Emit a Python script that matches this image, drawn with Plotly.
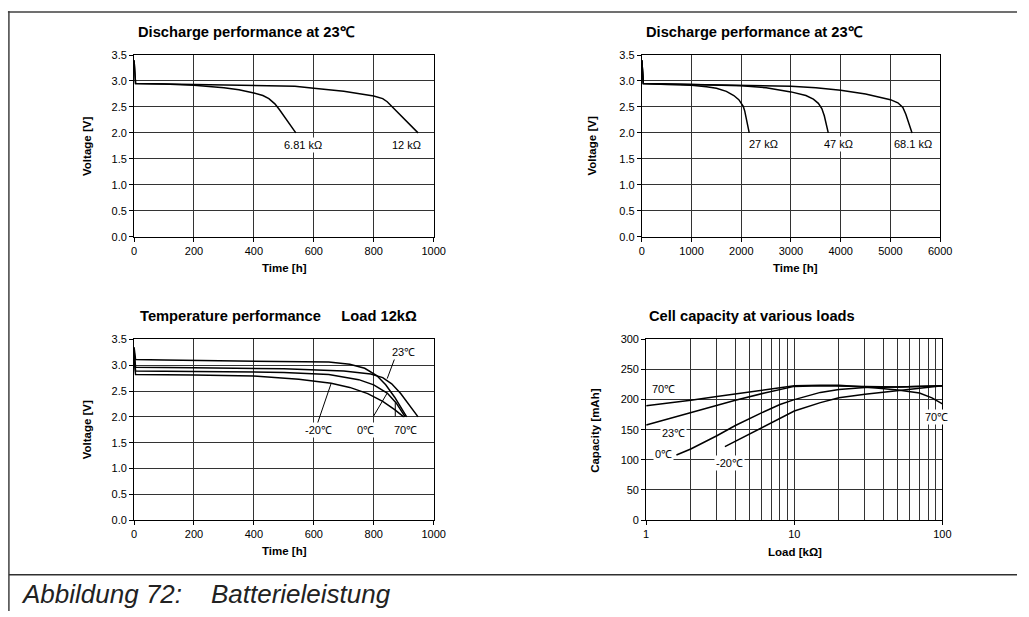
import plotly.graph_objects as go
import math

# ---------------- data ----------------
# Panel 1: Discharge performance at 23°C (time in h, voltage in V)
p1_681_t = [0, 5, 100, 200, 300, 350, 400, 430, 450, 470, 485, 510, 540]
p1_681_v = [3.40, 2.95, 2.94, 2.92, 2.87, 2.83, 2.77, 2.72, 2.66, 2.56, 2.45, 2.24, 2.00]
p1_12_t = [0, 5, 200, 400, 537, 600, 700, 800, 830, 845, 870, 910, 948]
p1_12_v = [3.40, 2.95, 2.93, 2.91, 2.90, 2.86, 2.80, 2.71, 2.66, 2.60, 2.45, 2.22, 2.00]
p1_labels = ["6.81 kΩ", "12 kΩ"]
p1_label_t = [563, 911]
p1_label_v = [1.76, 1.76]

# Panel 2: Discharge performance at 23°C, long loads
p2_27_t = [0, 30, 500, 1000, 1300, 1500, 1700, 1850, 1950, 2000, 2040, 2070, 2100, 2130, 2160]
p2_27_v = [3.40, 2.95, 2.93, 2.92, 2.89, 2.86, 2.80, 2.72, 2.64, 2.58, 2.51, 2.42, 2.26, 2.12, 2.00]
p2_47_t = [0, 30, 1000, 2000, 2500, 3000, 3300, 3450, 3550, 3620, 3670, 3710, 3750]
p2_47_v = [3.40, 2.95, 2.93, 2.91, 2.87, 2.79, 2.72, 2.65, 2.57, 2.47, 2.33, 2.18, 2.00]
p2_68_t = [0, 30, 1000, 2000, 3000, 3500, 4000, 4500, 4800, 5000, 5150, 5250, 5310, 5370, 5435]
p2_68_v = [3.40, 2.95, 2.93, 2.92, 2.90, 2.87, 2.82, 2.75, 2.69, 2.64, 2.58, 2.49, 2.36, 2.20, 2.00]
p2_labels = ["27 kΩ", "47 kΩ", "68.1 kΩ"]
p2_label_t = [2440, 3958, 5460]
p2_label_v = [1.78, 1.78, 1.78]

# Panel 3: Temperature performance, load 12 kΩ
p3_70_t = [0, 5, 100, 300, 500, 650, 720, 770, 810, 840, 870, 895, 910]
p3_70_v = [3.35, 3.11, 3.10, 3.09, 3.08, 3.06, 3.02, 2.94, 2.80, 2.62, 2.38, 2.15, 2.00]
p3_23_t = [0, 5, 200, 500, 700, 790, 830, 860, 890, 915, 935, 948]
p3_23_v = [3.30, 2.96, 2.95, 2.93, 2.89, 2.83, 2.76, 2.64, 2.45, 2.25, 2.10, 2.00]
p3_0_t = [0, 5, 200, 500, 650, 750, 800, 845, 875, 905]
p3_0_v = [3.20, 2.89, 2.88, 2.86, 2.82, 2.72, 2.62, 2.46, 2.27, 2.00]
p3_m20_t = [0, 5, 200, 400, 550, 658, 720, 780, 830, 870, 900]
p3_m20_v = [3.10, 2.82, 2.81, 2.79, 2.73, 2.65, 2.57, 2.45, 2.30, 2.14, 2.00]
p3_labels = ["23℃", "-20℃", "0℃", "70℃"]
p3_label_t = [901, 615, 773, 905]
p3_label_v = [3.25, 1.74, 1.74, 1.74]
# leader lines: from label side (tail) to curve (head)
p3_tail_t = [872, 608, 796, 872]
p3_tail_v = [3.16, 1.80, 1.98, 1.98]
p3_head_t = [845, 658, 845, 872]
p3_head_v = [2.74, 2.65, 2.46, 2.27]

# Panel 4: Cell capacity at various loads (load kΩ, capacity mAh)
p4_70_load = [1, 1.5, 2, 3, 5, 8, 10, 15, 20, 30, 50, 70, 85, 100]
p4_70_cap = [190, 195, 199, 205, 213, 220, 223, 224, 224, 221, 216, 211, 203, 193]
p4_23_load = [1, 1.5, 2, 3, 4, 6.3, 9, 10, 15, 20, 30, 50, 70, 100]
p4_23_cap = [158, 170, 179, 190, 199, 211, 220, 222, 223, 223, 222, 221, 222, 223]
p4_0_load = [1.6, 2, 3, 4, 6, 8, 10, 15, 20, 30, 50, 100]
p4_0_cap = [108, 118, 140, 157, 178, 192, 200, 212, 217, 220, 221, 223]
p4_m20_load = [3.4, 4, 5, 6.3, 8, 10, 15, 20, 30, 50, 100]
p4_m20_cap = [122, 131, 143, 156, 170, 181, 195, 203, 209, 215, 223]
p4_labels = ["70℃", "23℃", "0℃", "-20℃", "70℃"]
p4_label_load = [1.30, 1.52, 1.30, 3.64, 90.8]
p4_label_cap = [218, 145, 109, 95, 171]

titles = ["Discharge performance at 23℃", "Discharge performance at 23℃",
          "Temperature performance     Load 12kΩ", "Cell capacity at various loads"]
caption = "Abbildung 72:    Batterieleistung"

# ---------------- layout helpers ----------------
W, H = 1029, 617
FONT = "Liberation Sans, Arial, Helvetica, sans-serif"


def fx(x):
    return x / W


def fy(y):
    return 1 - y / H


fig = go.Figure()
line = dict(color="black", width=1.5)


def add(xs, ys, xa, ya):
    fig.add_trace(go.Scatter(x=xs, y=ys, mode="lines", line=line, xaxis=xa, yaxis=ya,
                             showlegend=False, hoverinfo="skip"))


add(p1_681_t, p1_681_v, "x", "y")
add(p1_12_t, p1_12_v, "x", "y")
add(p2_27_t, p2_27_v, "x2", "y2")
add(p2_47_t, p2_47_v, "x2", "y2")
add(p2_68_t, p2_68_v, "x2", "y2")
add(p3_70_t, p3_70_v, "x3", "y3")
add(p3_23_t, p3_23_v, "x3", "y3")
add(p3_0_t, p3_0_v, "x3", "y3")
add(p3_m20_t, p3_m20_v, "x3", "y3")
add(p4_70_load, p4_70_cap, "x4", "y4")
add(p4_23_load, p4_23_cap, "x4", "y4")
add(p4_0_load, p4_0_cap, "x4", "y4")
add(p4_m20_load, p4_m20_cap, "x4", "y4")

GRID = "#333333"
common = dict(showline=True, mirror=True, linecolor="black", linewidth=1,
              showgrid=True, gridcolor=GRID, gridwidth=1, zeroline=False,
              ticks="outside", ticklen=4, tickcolor="black", tickwidth=1,
              tickfont=dict(family=FONT, size=11, color="black"), fixedrange=True)

dom_x_left = [fx(133), fx(437)]
dom_x_right_top = [fx(648.3), fx(951)]
dom_x_right_bot = [fx(652.7), fx(953.3)]
dom_y_top = [fy(235.3), fy(50)]
dom_y_bot = [fy(524.3), fy(340)]

fig.update_layout(
    xaxis=dict(common, range=[0, 1000], dtick=200, domain=dom_x_left, anchor="y"),
    yaxis=dict(common, range=[0, 3.5], dtick=0.5, tickformat=".1f", domain=dom_y_top, anchor="x"),
    xaxis2=dict(common, range=[0, 6000], dtick=1000, domain=dom_x_right_top, anchor="y2"),
    yaxis2=dict(common, range=[0, 3.5], dtick=0.5, tickformat=".1f", domain=dom_y_top, anchor="x2"),
    xaxis3=dict(common, range=[0, 1000], dtick=200, domain=dom_x_left, anchor="y3"),
    yaxis3=dict(common, range=[0, 3.5], dtick=0.5, tickformat=".1f", domain=dom_y_bot, anchor="x3"),
    xaxis4=dict(common, type="log", range=[0, 2], tickvals=[1, 10, 100], ticktext=["1", "10", "100"],
                minor=dict(tickvals=[2, 3, 4, 5, 6, 7, 8, 9, 20, 30, 40, 50, 60, 70, 80, 90],
                           showgrid=True, gridcolor=GRID, gridwidth=1, ticks=""),
                domain=dom_x_right_bot, anchor="y4"),
    yaxis4=dict(common, range=[0, 300], dtick=50, domain=dom_y_bot, anchor="x4"),
    width=W, height=H, autosize=False,
    margin=dict(l=0, r=0, t=0, b=0),
    paper_bgcolor="white", plot_bgcolor="white",
    font=dict(family=FONT, color="black"),
)

ann = []
# chart titles
title_pos = [(135, 27), (650, 27), (137, 316), (654, 316)]
for t, (x, y) in zip(titles, title_pos):
    ann.append(dict(text="<b>%s</b>" % t, x=fx(x), y=fy(y), xref="paper", yref="paper",
                    xanchor="left", yanchor="middle", showarrow=False,
                    font=dict(family=FONT, size=14.7, color="black")))
# axis titles
ax_titles = [("Time [h]", 286, 267, 0), ("Time [h]", 804, 267, 0),
             ("Time [h]", 286, 556, 0), ("Load [kΩ]", 804, 557, 0),
             ("Voltage [V]", 85, 143, -90), ("Voltage [V]", 598, 143, -90),
             ("Voltage [V]", 85, 432, -90), ("Capacity [mAh]", 600, 433, -90)]
for t, x, y, rot in ax_titles:
    ann.append(dict(text="<b>%s</b>" % t, x=fx(x), y=fy(y), xref="paper", yref="paper",
                    xanchor="center", yanchor="middle", showarrow=False, textangle=rot,
                    font=dict(family=FONT, size=11.5, color="black")))

lab_font = dict(family=FONT, size=11, color="black")
for t, x, y in zip(p1_labels, p1_label_t, p1_label_v):
    ann.append(dict(text=t, x=x, y=y, xref="x", yref="y", showarrow=False,
                    bgcolor="white", borderpad=1, font=lab_font))
for t, x, y in zip(p2_labels, p2_label_t, p2_label_v):
    ann.append(dict(text=t, x=x, y=y, xref="x2", yref="y2", showarrow=False,
                    bgcolor="white", borderpad=1, font=lab_font))
for tx, ty, hx, hy in zip(p3_tail_t, p3_tail_v, p3_head_t, p3_head_v):
    ann.append(dict(text="", x=hx, y=hy, ax=tx, ay=ty, xref="x3", yref="y3",
                    axref="x3", ayref="y3", showarrow=True, arrowhead=0, arrowwidth=1,
                    arrowcolor="black", standoff=0, startstandoff=0))
for t, x, y in zip(p3_labels, p3_label_t, p3_label_v):
    ann.append(dict(text=t, x=x, y=y, xref="x3", yref="y3", showarrow=False,
                    bgcolor="white", borderpad=1, font=lab_font))
for t, x, y in zip(p4_labels, p4_label_load, p4_label_cap):
    ann.append(dict(text=t, x=math.log10(x), y=y, xref="x4", yref="y4", showarrow=False,
                    bgcolor="white", borderpad=1, font=lab_font))

# caption
ann.append(dict(text="<i>%s</i>" % caption, x=fx(16), y=fy(600), xref="paper", yref="paper",
                xanchor="left", yanchor="middle", showarrow=False,
                font=dict(family=FONT, size=26, color="#222222")))
fig.update_layout(annotations=ann)

# frame lines
shapes = [
    dict(type="line", xref="paper", yref="paper", x0=fx(5), x1=1, y0=fy(6), y1=fy(6),
         line=dict(color="#707070", width=2)),
    dict(type="line", xref="paper", yref="paper", x0=fx(6), x1=fx(6), y0=fy(5), y1=0,
         line=dict(color="#404040", width=1.5)),
    dict(type="line", xref="paper", yref="paper", x0=fx(6), x1=1, y0=fy(580), y1=fy(580),
         line=dict(color="#303030", width=1.5)),
]
fig.update_layout(shapes=shapes)

fig.write_html("out.html", config={"displayModeBar": False},
               post_script="document.body.style.margin='0';document.body.style.overflow='hidden';")
